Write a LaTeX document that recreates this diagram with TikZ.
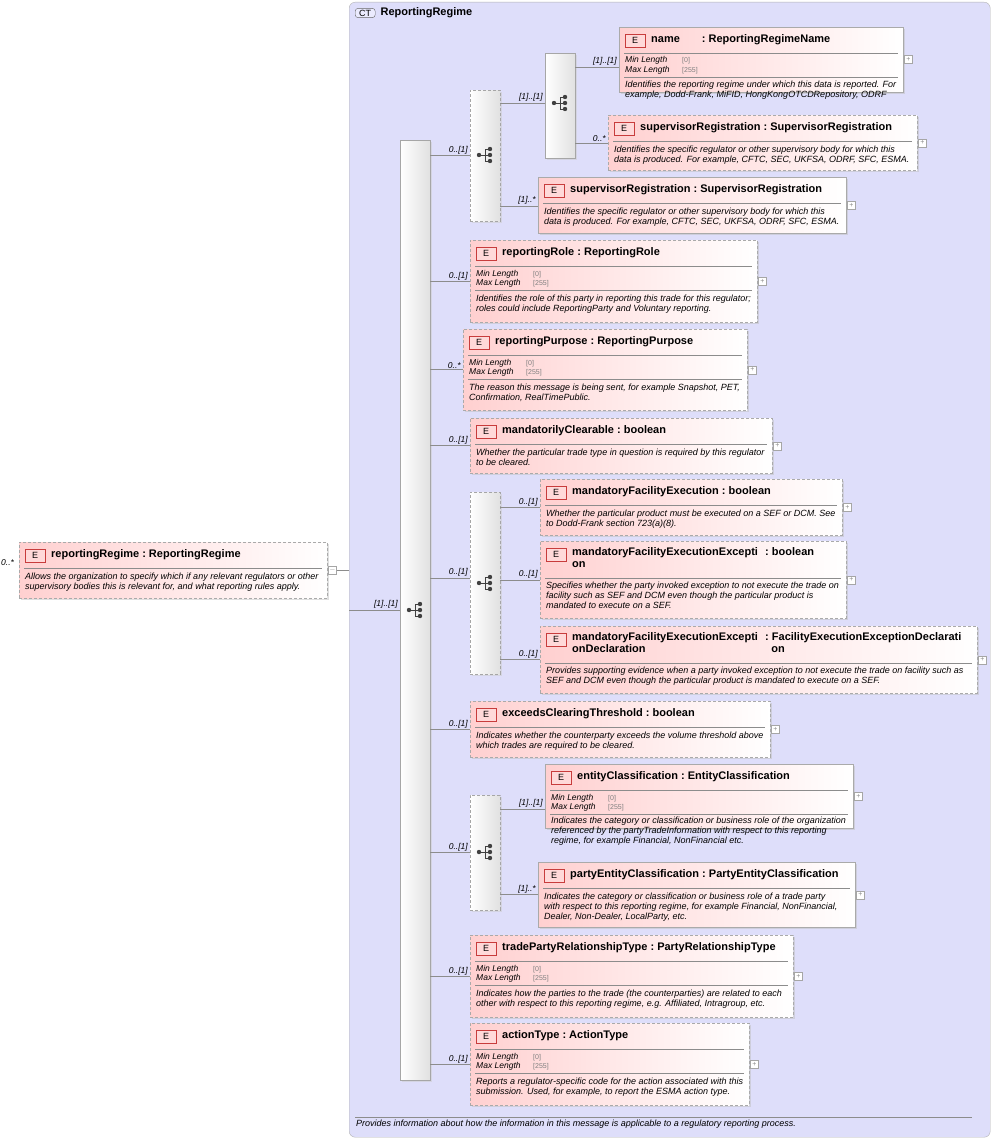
\documentclass[tikz,border=0pt]{standalone}
\usepackage{fontspec}
\setmainfont{Liberation Sans}
\usetikzlibrary{positioning,shadows}
\definecolor{ctfill}{RGB}{222,222,250}
\definecolor{epink}{RGB}{255,208,208}
\definecolor{eborder}{RGB}{170,170,170}
\definecolor{iconred}{RGB}{200,60,60}
\tikzset{
  ebox/.style={draw=eborder,left color=epink,right color=white,inner sep=0pt,
    drop shadow={shadow xshift=1.5pt,shadow yshift=-1.5pt,fill=black!25}},
  opt/.style={dashed,dash pattern=on 3pt off 2pt},
  eicon/.style={draw=iconred,fill=epink!80,minimum width=20pt,minimum height=13pt,inner sep=0pt,
    font=\fontsize{9}{9}\selectfont},
  etitle/.style={font=\fontsize{11}{12}\selectfont\bfseries,inner sep=0pt,align=left},
  sepline/.style={draw=black!45,line width=.5pt},
  bar/.style={draw=black!35,left color=white,right color=black!12,inner sep=0pt,minimum width=30pt,
    drop shadow={shadow xshift=1.5pt,shadow yshift=-1.5pt,fill=black!20}},
  conn/.style={draw=black!45,line width=.5pt},
  cardtxt/.style={inner sep=0pt,font=\fontsize{8.5}{8.5}\selectfont\itshape},
  card/.style={cardtxt,pos=1,anchor=south east,xshift=-2pt,yshift=1pt},
  plusbox/.style={draw=black!35,fill=white,minimum size=8pt,inner sep=0pt,
    font=\fontsize{7}{7}\selectfont,text=black!45},
  facet/.style={inner sep=0pt,anchor=base west,font=\fontsize{8.5}{8.5}\selectfont\itshape},
  fval/.style={inner sep=0pt,anchor=base west,font=\fontsize{7}{7}\selectfont,text=black!50},
  descr/.style={inner sep=0pt,anchor=north west,align=left,font=\fontsize{9}{10}\selectfont\itshape}
}
% element box: [separator], id, x, y, w, h, extra style, title
\newcommand\ebox[8][26]{%
  \node[ebox,#7,minimum width=#5pt,minimum height=#6pt,anchor=north west] (#2) at (#3,#4) {};
  \node[eicon,anchor=north west] (#2-e) at ([xshift=6pt,yshift=-7pt]#2.north west) {E};
  \node[etitle,anchor=west] (#2-t) at ([xshift=32pt,yshift=-13pt]#2.north west) {#8};
  \draw[sepline] ([xshift=5pt,yshift=-#1pt]#2.north west) -- ([xshift=-5pt,yshift=-#1pt]#2.north east);
  \node[plusbox] (#2-p) at ([xshift=5pt]#2.east) {+};
}
\newcommand\facets[1]{%
  \node[facet] at ([xshift=6pt,yshift=-36pt]#1.north west) {Min Length};
  \node[facet] at ([xshift=6pt,yshift=-45pt]#1.north west) {Max Length};
  \node[fval] at ([xshift=63pt,yshift=-36pt]#1.north west) {[0]};
  \node[fval] at ([xshift=63pt,yshift=-45pt]#1.north west) {[255]};
  \draw[sepline] ([xshift=5pt,yshift=-50pt]#1.north west) -- ([xshift=-5pt,yshift=-50pt]#1.north east);
}
\newcommand\descr[3]{\node[descr] at ([xshift=6pt,yshift=-#2pt]#1.north west) {#3};}
\newcommand\seqicon[1]{%
  \begin{scope}[shift={(#1)},black!75,line width=.8pt]
    \fill (-6,0) circle (2.2pt);
    \draw (-6,0) -- (0,0) (0,-6) -- (0,6) (0,-6) -- (5,-6) (0,0) -- (5,0) (0,6) -- (5,6);
    \foreach \k in {-6,0,6} \fill (5,\k) circle (2.2pt);
  \end{scope}}
\begin{document}
\begin{tikzpicture}[x=1pt,y=-1pt]
\useasboundingbox (0,0) rectangle (995,1140);
% complex type frame
\node[draw=black!30,fill=ctfill,rounded corners=6pt,minimum width=641pt,minimum height=1135pt,
  anchor=north west,inner sep=0pt] (ct) at (349,2) {};
\node[draw=black!60,fill=ctfill!70!blue!20,rounded corners=3pt,inner sep=1.5pt,minimum width=20pt,
  font=\fontsize{9}{9}\selectfont,anchor=west] (ct-i) at (355,13) {CT};
\node[etitle,right=5pt of ct-i] {ReportingRegime};
\draw[sepline] (355,1117) -- (972,1117);
\node[descr] at (356,1120) {Provides information about how the information in this message is applicable to a regulatory reporting process.};

% root element
\ebox{root}{19}{542}{308}{56}{opt}{reportingRegime\ :\ ReportingRegime}
\node[plusbox] at (root-p) {$-$};
\descr{root}{31}{Allows the organization to specify which if any relevant regulators or other\\supervisory bodies this is relevant for, and what reporting rules apply.}
\node[cardtxt,anchor=base west] (root-c) at (1,565) {0..*};
\coordinate (ctin) at (ct.west |- 0,610);
\draw[conn] (root-p.east) -- (ct.west |- root-p.east);

% main sequence
\node[bar,minimum height=940pt,anchor=north west] (seq) at (400,140) {};
\seqicon{415,610}
\draw[conn] (ctin) -- node[card] {[1]..[1]} (seq.west |- ctin);

% first choice
\node[bar,opt,minimum height=131pt,anchor=north west] (ch1) at (470,90) {};
\seqicon{485,155}
\draw[conn] (seq.east |- ch1.west) -- node[card] {0..[1]} (ch1.west);
\node[bar,minimum height=105pt,anchor=north west] (seq2) at (545,53) {};
\seqicon{560,103}
\draw[conn] (ch1.east |- 0,103) -- node[card] {[1]..[1]} (seq2.west |- 0,103);

\ebox{nm}{619}{27}{284}{65}{}{name\hspace{2em}:\ ReportingRegimeName}
\facets{nm}
\descr{nm}{54}{Identifies the reporting regime under which this data is reported. For\\example, Dodd-Frank, MiFID, HongKongOTCDRepository, ODRF}
\draw[conn] (seq2.east |- 0,67) -- node[card] {[1]..[1]} (nm.west |- 0,67);

\ebox{svA}{608}{115}{309}{55}{opt}{supervisorRegistration\ :\ SupervisorRegistration}
\descr{svA}{31}{Identifies the specific regulator or other supervisory body for which this\\data is produced. For example, CFTC, SEC, UKFSA, ODRF, SFC, ESMA.}
\draw[conn] (seq2.east |- 0,143) -- node[card] {0..*} (svA.west |- 0,143);

\ebox{svB}{538}{177}{308}{56}{}{supervisorRegistration\ :\ SupervisorRegistration}
\descr{svB}{31}{Identifies the specific regulator or other supervisory body for which this\\data is produced. For example, CFTC, SEC, UKFSA, ODRF, SFC, ESMA.}
\draw[conn] (ch1.east |- 0,206) -- node[card] {[1]..*} (svB.west |- 0,206);

% simple children
\ebox{role}{470}{240}{287}{82}{opt}{reportingRole\ :\ ReportingRole}
\facets{role}
\descr{role}{55}{Identifies the role of this party in reporting this trade for this regulator;\\roles could include ReportingParty and Voluntary reporting.}
\draw[conn] (seq.east |- role.west) -- node[card] {0..[1]} (role.west);

\ebox{purp}{463}{329}{284}{81}{opt}{reportingPurpose\ :\ ReportingPurpose}
\facets{purp}
\descr{purp}{55}{The reason this message is being sent, for example Snapshot, PET,\\Confirmation, RealTimePublic.}
\draw[conn] (seq.east |- purp.west) -- node[card] {0..*} (purp.west);

\ebox{mclr}{470}{418}{302}{55}{opt}{mandatorilyClearable\ :\ boolean}
\descr{mclr}{31}{Whether the particular trade type in question is required by this regulator\\to be cleared.}
\draw[conn] (seq.east |- mclr.west) -- node[card] {0..[1]} (mclr.west);

% second choice
\node[bar,opt,minimum height=182pt,anchor=north west] (ch2) at (470,492) {};
\seqicon{485,583}
\draw[conn] (seq.east |- 0,578) -- node[card] {0..[1]} (ch2.west |- 0,578);

\ebox{mfe}{540}{479}{302}{56}{opt}{mandatoryFacilityExecution\ :\ boolean}
\descr{mfe}{31}{Whether the particular product must be executed on a SEF or DCM. See\\to Dodd-Frank section 723(a)(8).}
\draw[conn] (ch2.east |- mfe.west) -- node[card] {0..[1]} (mfe.west);

\ebox[37]{mfx}{540}{541}{306}{77}{opt}{}
\node[etitle,anchor=north west] at ([xshift=32pt,yshift=-6pt]mfx.north west) {mandatoryFacilityExecutionExcepti\\on};
\node[etitle,anchor=north west] at ([xshift=225pt,yshift=-6pt]mfx.north west) {:\ boolean};
\descr{mfx}{41}{Specifies whether the party invoked exception to not execute the trade on\\facility such as SEF and DCM even though the particular product is\\mandated to execute on a SEF.}
\draw[conn] (ch2.east |- 0,580) -- node[card] {0..[1]} (mfx.west |- 0,580);

\ebox[37]{mfd}{540}{626}{437}{67}{opt}{}
\node[etitle,anchor=north west] at ([xshift=32pt,yshift=-6pt]mfd.north west) {mandatoryFacilityExecutionExcepti\\onDeclaration};
\node[etitle,anchor=north west] at ([xshift=225pt,yshift=-6pt]mfd.north west) {:\ FacilityExecutionExceptionDeclarati\\\ \ on};
\descr{mfd}{41}{Provides supporting evidence when a party invoked exception to not execute the trade on facility such as\\SEF and DCM even though the particular product is mandated to execute on a SEF.}
\draw[conn] (ch2.east |- mfd.west) -- node[card] {0..[1]} (mfd.west);

\ebox{exc}{470}{701}{300}{56}{opt}{exceedsClearingThreshold\ :\ boolean}
\descr{exc}{31}{Indicates whether the counterparty exceeds the volume threshold above\\which trades are required to be cleared.}
\draw[conn] (seq.east |- exc.west) -- node[card] {0..[1]} (exc.west);

% third choice
\node[bar,opt,minimum height=115pt,anchor=north west] (ch3) at (470,795) {};
\seqicon{485,852}
\draw[conn] (seq.east |- ch3.west) -- node[card] {0..[1]} (ch3.west);

\ebox{ent}{545}{764}{308}{64}{}{entityClassification\ :\ EntityClassification}
\facets{ent}
\descr{ent}{53}{Indicates the category or classification or business role of the organization\\referenced by the partyTradeInformation with respect to this reporting\\regime, for example Financial, NonFinancial etc.}
\draw[conn] (ch3.east |- 0,809) -- node[card] {[1]..[1]} (ent.west |- 0,809);

\ebox{pent}{538}{862}{317}{65}{}{partyEntityClassification\ :\ PartyEntityClassification}
\descr{pent}{31}{Indicates the category or classification or business role of a trade party\\with respect to this reporting regime, for example Financial, NonFinancial,\\Dealer, Non-Dealer, LocalParty, etc.}
\draw[conn] (ch3.east |- pent.west) -- node[card] {[1]..*} (pent.west);

\ebox{tprt}{470}{935}{323}{82}{opt}{tradePartyRelationshipType\ :\ PartyRelationshipType}
\facets{tprt}
\descr{tprt}{55}{Indicates how the parties to the trade (the counterparties) are related to each\\other with respect to this reporting regime, e.g. Affiliated, Intragroup, etc.}
\draw[conn] (seq.east |- tprt.west) -- node[card] {0..[1]} (tprt.west);

\ebox{act}{470}{1023}{279}{82}{opt}{actionType\ :\ ActionType}
\facets{act}
\descr{act}{55}{Reports a regulator-specific code for the action associated with this\\submission. Used, for example, to report the ESMA action type.}
\draw[conn] (seq.east |- act.west) -- node[card] {0..[1]} (act.west);
\end{tikzpicture}
\end{document}
